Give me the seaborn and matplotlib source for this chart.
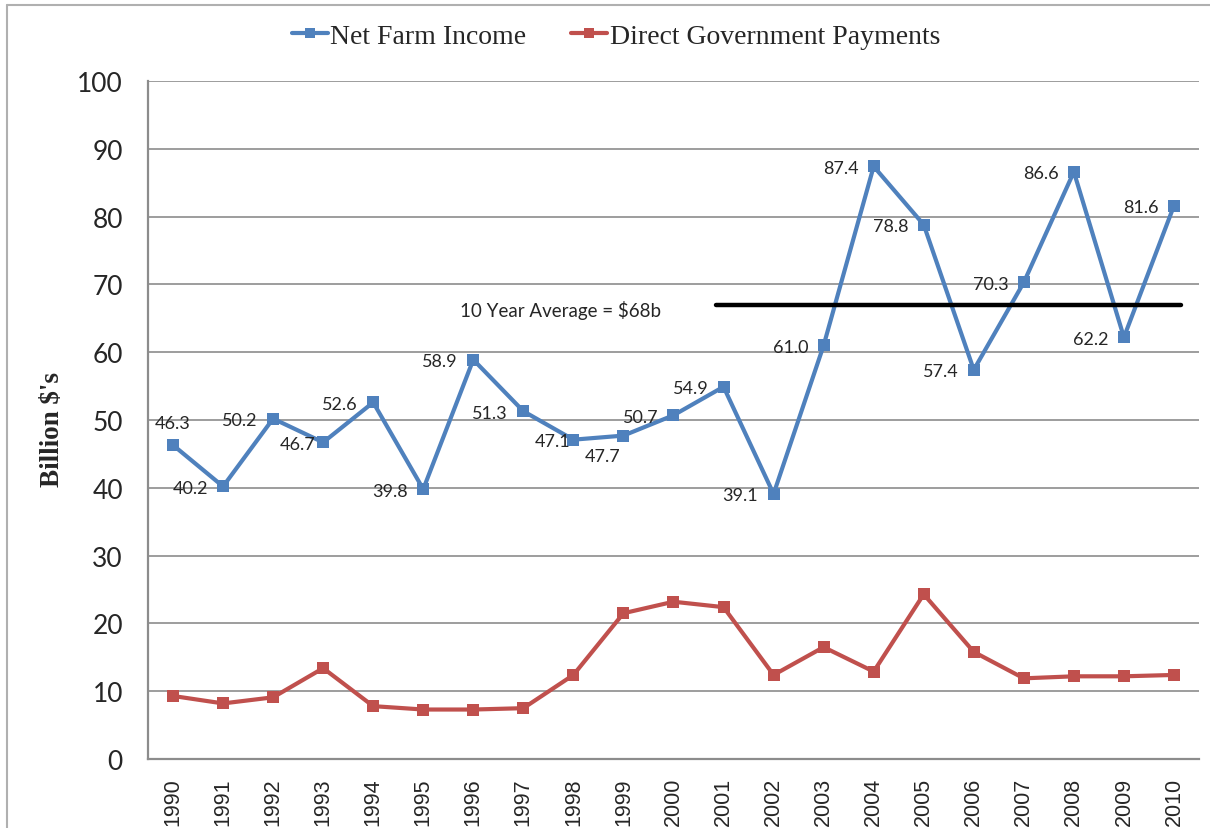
"""
Net farm income vs. direct government payments, 1990-2010.
"""

import numpy as np
import pandas as pd
import matplotlib.pyplot as plt
import matplotlib.lines as mlines
import seaborn as sns

# --- data (billion $) ---
years = list(range(1990, 2011))
net_farm_income = [46.3, 40.2, 50.2, 46.7, 52.6, 39.8, 58.9, 51.3, 47.1, 47.7,
                   50.7, 54.9, 39.1, 61.0, 87.4, 78.8, 57.4, 70.3, 86.6, 62.2, 81.6]
direct_payments = [9.3, 8.2, 9.1, 13.4, 7.8, 7.3, 7.3, 7.5, 12.4, 21.5,
                   23.2, 22.4, 12.4, 16.5, 12.9, 24.3, 15.8, 11.9, 12.2, 12.2, 12.4]
avg_value = 67
avg_label = "10 Year Average = $68b"
series_names = ["Net Farm Income", "Direct Government Payments"]

BLUE = "#4F81BD"
RED = "#C0504D"
GRID = "#8C8C8C"

df = pd.DataFrame({
    "idx": np.arange(len(years)),
    "year": years,
    "nfi": net_farm_income,
    "dgp": direct_payments,
})

sns.set_style("white")
plt.rcParams["font.family"] = ["Lato", "DejaVu Sans"]

fig = plt.figure(figsize=(12.1, 8.29), dpi=100)
ax = fig.add_axes([0.1223, 0.0832, 0.8686, 0.8179])

line_kw = dict(marker="s", markersize=8, linewidth=3, markeredgewidth=0)
sns.lineplot(data=df, x="idx", y="nfi", color=BLUE, ax=ax, **line_kw)
sns.lineplot(data=df, x="idx", y="dgp", color=RED, ax=ax, **line_kw)

# 10 year average line + label
ax.plot([10.85, 20.15], [avg_value, avg_value], color="black", linewidth=3.2, zorder=4)
ax.text(7.75, 66.3, avg_label, ha="center", va="center", fontsize=13.5)

# data labels on net farm income (a few are placed differently in the original)
label_offsets = {1990: (0, 17, "center"), 1993: (-5.5, 0, "right"),
                 1998: (-2, 0, "right"), 1999: (-2, -14, "right")}
for i, (yr, v) in enumerate(zip(years, net_farm_income)):
    dx, dy, ha = label_offsets.get(yr, (-11, 0, "right"))
    ax.annotate(f"{v:.1f}", (i, v), xytext=(dx, dy - 1), textcoords="offset points",
                ha=ha, va="center", fontsize=13, zorder=5)

# axes styling
ax.set_xlim(-0.5, len(years) - 0.5)
ax.set_ylim(0, 100)
ax.set_yticks(range(0, 101, 10))
ax.set_xticks(df["idx"])
ax.set_xticklabels(years, rotation=90, fontsize=15.5, family="Liberation Sans")
ax.set_xticks(np.arange(-0.5, len(years), 1), minor=True)
ax.tick_params(axis="x", which="major", length=0, pad=13)
ax.tick_params(axis="x", which="minor", length=8, width=1.4, color=GRID, direction="out")
ax.tick_params(axis="y", length=10, width=1.4, color=GRID, direction="out", labelsize=19, pad=8)
ax.yaxis.grid(True, color=GRID, linewidth=1.2)
ax.set_axisbelow(True)
for side in ["top", "right"]:
    ax.spines[side].set_visible(False)
for side in ["left", "bottom"]:
    ax.spines[side].set_color(GRID)
    ax.spines[side].set_linewidth(1.6)

ax.set_xlabel("")
ax.set_ylabel("Billion $'s", fontsize=19.5, fontweight="bold", family="Liberation Serif")
ax.yaxis.set_label_coords(-0.079, 0.487)

# legend at the top
handles = [mlines.Line2D([], [], color=c, marker="s", markersize=7, linewidth=3, markeredgewidth=0)
           for c in [BLUE, RED]]
fig.legend(handles, series_names, loc="center", bbox_to_anchor=(0.509, 0.955), ncol=2,
           frameon=False, handlelength=1.3, handletextpad=0.1, columnspacing=1.6,
           prop={"family": "Liberation Serif", "size": 20})

# light frame around the chart area
fig.add_artist(mlines.Line2D([0.006, 0.006], [0, 0.9925], color="#B0B0B0", linewidth=1.5))
fig.add_artist(mlines.Line2D([0.006, 1], [0.9925, 0.9925], color="#B0B0B0", linewidth=1.5))

fig.savefig("out.png", dpi=100)
plt.close(fig)
